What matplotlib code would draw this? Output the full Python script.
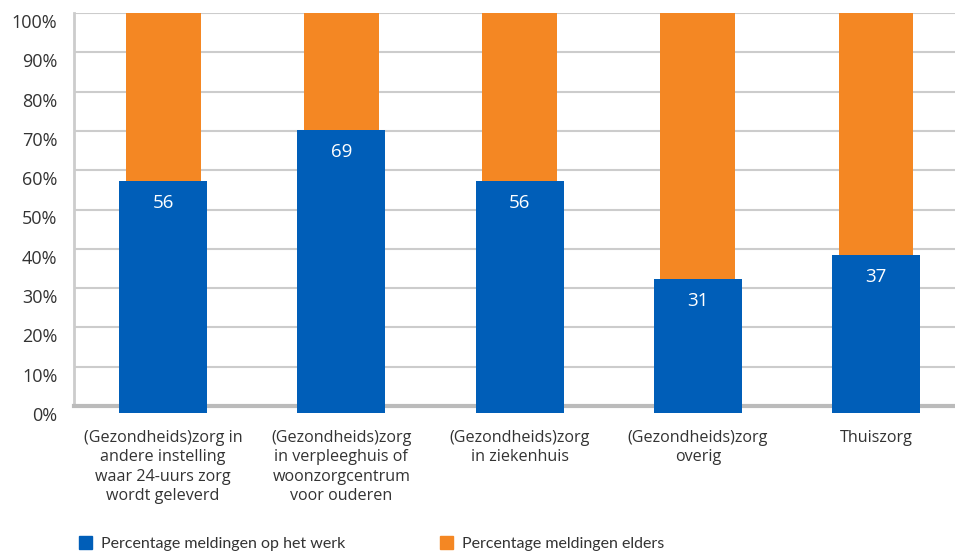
import matplotlib
matplotlib.use("Agg")
import matplotlib.pyplot as plt
import matplotlib.transforms as mtransforms
from matplotlib.patches import Patch

plt.rcParams['font.family'] = ['Open Sans', 'DejaVu Sans']

categories = [
    "(Gezondheids)zorg in\nandere instelling\nwaar 24-uurs zorg\nwordt geleverd",
    "(Gezondheids)zorg\nin verpleeghuis of\nwoonzorgcentrum\nvoor ouderen",
    "(Gezondheids)zorg\nin ziekenhuis",
    "(Gezondheids)zorg\noverig",
    "Thuiszorg",
]
werk = [56, 69, 56, 31, 37]
elders = [100 - v for v in werk]
yticks = [0, 10, 20, 30, 40, 50, 60, 70, 80, 90, 100]
ytick_labels = [f"{t}%" for t in yticks]
legend_labels = ["Percentage meldingen op het werk", "Percentage meldingen elders"]

BLUE = "#005EB8"
ORANGE = "#F48723"
TEXT = "#333333"
GRID = "#CCCCCC"

fig = plt.figure(figsize=(9.55, 5.55), dpi=100)
ax = fig.add_axes([74/955, 1-406/555, 1-74/955, (406-13)/555])

x = list(range(len(categories)))
ax.bar(x, elders, bottom=werk, width=0.42, color=ORANGE, zorder=2)
# blue bars rendered slightly enlarged (highlight effect in reference)
ax.bar(x, [v + 3.1 for v in werk], bottom=-1.8, width=0.494, color=BLUE,
       zorder=3, clip_on=False)
for xi, v in zip(x, werk):
    ax.text(xi, v - 2.0, str(v), ha="center", va="top", color="white",
            fontsize=13.5, zorder=4)

ax.set_xlim(-0.5, 4.443)
ax.set_ylim(0, 100)
ax.set_yticks(yticks)
ax.set_yticklabels(ytick_labels, fontsize=13, color=TEXT)
ax.set_xticks(x)
ax.set_xticklabels(categories, fontsize=11.6, color=TEXT, linespacing=1.3)
ax.tick_params(axis="both", length=0)
ax.tick_params(axis="y", pad=12)
ax.tick_params(axis="x", pad=17)
offset = mtransforms.ScaledTranslation(0, -8/100, fig.dpi_scale_trans)
for lbl in ax.get_yticklabels():
    lbl.set_transform(lbl.get_transform() + offset)
ax.yaxis.grid(True, color=GRID, linewidth=1.5, zorder=0)
ax.set_axisbelow(True)
for s in ["top", "right"]:
    ax.spines[s].set_visible(False)
ax.spines["left"].set_color(GRID)
ax.spines["left"].set_linewidth(2)
ax.spines["bottom"].set_color("#BBBBBB")
ax.spines["bottom"].set_linewidth(3)

handles = [Patch(color=BLUE), Patch(color=ORANGE)]
fig.legend(handles, legend_labels, loc="lower left", bbox_to_anchor=(65/955, -0.019),
           ncol=2, frameon=False, prop={"family": ["Lato", "DejaVu Sans"], "size": 11.5},
           handlelength=0.82, handleheight=0.82, handletextpad=0.55,
           columnspacing=5.9, labelcolor=TEXT)

fig.savefig("out.png", dpi=100)
